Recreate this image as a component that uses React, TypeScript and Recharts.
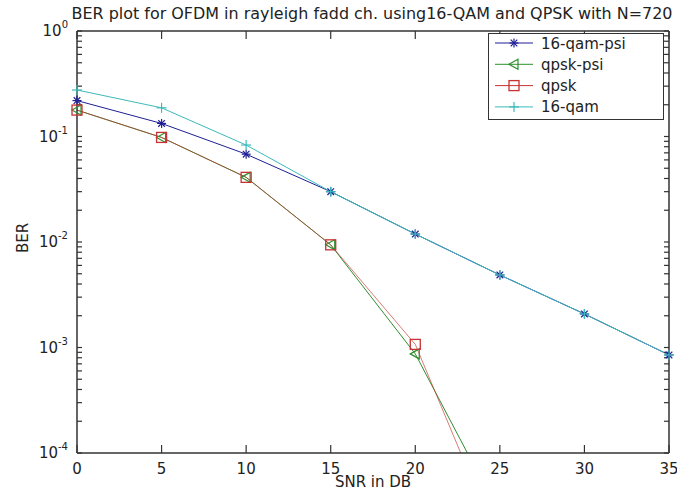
import React from "react"
import { LineChart, Line, XAxis, YAxis } from "recharts"

const snr = [0, 5, 10, 15, 20, 25, 30, 35]
const qam16Psi = [0.219, 0.133, 0.068, 0.03, 0.0119, 0.00487, 0.00208, 0.00085]
const qpskPsi = [0.178, 0.098, 0.041, 0.0094, 0.00087, 0.000026, null, null]
const qpsk = [0.178, 0.098, 0.041, 0.0094, 0.00107, 0.000013, null, null]
const qam16 = [0.276, 0.187, 0.083, 0.03, 0.0119, 0.00487, 0.00208, 0.00085]

const xTicks = [0, 5, 10, 15, 20, 25, 30, 35]
const decades = [0.0001, 0.001, 0.01, 0.1, 1]
const minorSteps = [2, 3, 4, 5, 6, 7, 8, 9]
const yTicks = decades.concat(
  decades.slice(0, 4).flatMap((d) => minorSteps.map((m) => d * m))
)

const title = "BER plot for OFDM in rayleigh fadd ch. using16-QAM and QPSK with N=720"

type Kind = "star" | "tri" | "square" | "plus"

const series: { key: string; name: string; color: string; kind: Kind; opacity: number }[] = [
  { key: "qam16Psi", name: "16-qam-psi", color: "#1f1f96", kind: "star", opacity: 1 },
  { key: "qpskPsi", name: "qpsk-psi", color: "#2f8f2f", kind: "tri", opacity: 1 },
  { key: "qpsk", name: "qpsk", color: "#c83232", kind: "square", opacity: 0.65 },
  { key: "qam16", name: "16-qam", color: "#3cbaba", kind: "plus", opacity: 1 },
]

const data = snr.map((x, i) => ({
  snr: x,
  qam16Psi: qam16Psi[i],
  qpskPsi: qpskPsi[i],
  qpsk: qpsk[i],
  qam16: qam16[i],
}))

const FONT = "'DejaVu Sans', sans-serif"
const AX = "#333"
const TXT = "#222"

const Marker = ({ kind, cx, cy, color }: { kind: Kind; cx: number; cy: number; color: string }) => {
  const s = 4.5
  if (kind === "star")
    return (
      <g stroke={color} strokeWidth={1.2}>
        <line x1={cx - s} x2={cx + s} y1={cy} y2={cy} />
        <line x1={cx} x2={cx} y1={cy - s} y2={cy + s} />
        <line x1={cx - 3.3} x2={cx + 3.3} y1={cy - 3.3} y2={cy + 3.3} />
        <line x1={cx - 3.3} x2={cx + 3.3} y1={cy + 3.3} y2={cy - 3.3} />
      </g>
    )
  if (kind === "tri")
    return (
      <polygon
        points={`${cx - 5},${cy} ${cx + 4},${cy - 5} ${cx + 4},${cy + 5}`}
        fill="none"
        stroke={color}
        strokeWidth={1.2}
      />
    )
  if (kind === "square")
    return <rect x={cx - 5} y={cy - 5} width={10} height={10} fill="none" stroke={color} strokeWidth={1.3} />
  return (
    <g stroke={color} strokeWidth={1.2}>
      <line x1={cx - 5} x2={cx + 5} y1={cy} y2={cy} />
      <line x1={cx} x2={cx} y1={cy - 5} y2={cy + 5} />
    </g>
  )
}

const dotFor = (kind: Kind, color: string) => (props: any) => {
  const { cx, cy, index } = props
  if (cx == null || cy == null || props.value == null) return <g key={`d-${kind}-${index}`} />
  return (
    <g key={`d-${kind}-${index}`}>
      <Marker kind={kind} cx={cx} cy={cy} color={color} />
    </g>
  )
}

const XTick = (props: any) => {
  const { x, y, payload } = props
  return (
    <text x={x} y={y} dy="0.8em" textAnchor="middle" fontSize={15} fontFamily={FONT} fill={TXT}>
      {payload.value}
    </text>
  )
}

const NoLabel = () => <g />

const isMajor = (v: number) => Math.abs(Math.log10(v) - Math.round(Math.log10(v))) < 1e-6

const YTick = (props: any) => {
  const { x, y, payload } = props
  const v = payload.value as number
  if (!isMajor(v)) return <g />
  const exp = Math.round(Math.log10(v))
  return (
    <text x={x} y={y + 5} textAnchor="end" fontSize={15} fontFamily={FONT} fill={TXT}>
      10
      <tspan dy={-8} fontSize={10}>
        {exp}
      </tspan>
    </text>
  )
}

const Overlay = () => (
  <svg
    width={677}
    height={500}
    style={{ position: "absolute", left: 0, top: 0, pointerEvents: "none" }}
  >
    <text
      x={372}
      y={19}
      textAnchor="middle"
      fontSize={16}
      fontFamily={FONT}
      fill={TXT}
      textLength={601}
      lengthAdjust="spacingAndGlyphs"
    >
      {title}
    </text>
    <text x={373} y={487} textAnchor="middle" fontSize={15} fontFamily={FONT} fill={TXT}>
      SNR in DB
    </text>
    <text
      x={23}
      y={238}
      textAnchor="middle"
      dominantBaseline="central"
      fontSize={15}
      fontFamily={FONT}
      fill={TXT}
      transform="rotate(-90 23 238)"
    >
      BER
    </text>
    <g transform="translate(488,33)">
      <rect x={0.5} y={0.5} width={175} height={86} fill="#fff" stroke={AX} />
      {series.map((s, i) => {
        const cy = 10 + i * 21.3
        return (
          <g key={s.key}>
            <line x1={7} x2={45} y1={cy} y2={cy} stroke={s.color} />
            <Marker kind={s.kind} cx={26} cy={cy} color={s.color} />
            <text x={53} y={cy + 5.5} fontSize={15} fontFamily={FONT} fill={TXT}>
              {s.name}
            </text>
          </g>
        )
      })}
    </g>
  </svg>
)

const tickStyle = { stroke: AX, strokeWidth: 1.2 }

const App = () => {
  return (
    <div style={{ position: "absolute", left: 0, top: 0, width: 677, height: 500, background: "#fff" }}>
      <LineChart
        width={677}
        height={500}
        data={data}
        margin={{ top: 30, right: 7, bottom: 0, left: 0 }}
      >
        <XAxis
          xAxisId={0}
          dataKey="snr"
          type="number"
          domain={[0, 35]}
          ticks={xTicks}
          height={47}
          tickSize={-8}
          tickMargin={17}
          tick={<XTick />}
          axisLine={{ stroke: AX, strokeWidth: 1.5 }}
          tickLine={tickStyle}
        />
        <XAxis
          xAxisId="top"
          orientation="top"
          dataKey="snr"
          type="number"
          domain={[0, 35]}
          ticks={xTicks}
          height={1}
          tickSize={-8}
          tickMargin={0}
          tick={<NoLabel />}
          axisLine={{ stroke: AX, strokeWidth: 1.5 }}
          tickLine={tickStyle}
        />
        <YAxis
          yAxisId={0}
          scale="log"
          domain={[0.0001, 1]}
          allowDataOverflow
          ticks={yTicks}
          interval={0}
          width={77}
          tickSize={-5}
          tickMargin={14}
          tick={<YTick />}
          axisLine={{ stroke: AX, strokeWidth: 1.5 }}
          tickLine={tickStyle}
        />
        <YAxis
          yAxisId="right"
          orientation="right"
          scale="log"
          domain={[0.0001, 1]}
          allowDataOverflow
          ticks={yTicks}
          interval={0}
          width={1}
          tickSize={-5}
          tickMargin={0}
          tick={<NoLabel />}
          axisLine={{ stroke: AX, strokeWidth: 1.5 }}
          tickLine={tickStyle}
        />
        {series.map((s) => (
          <Line
            key={s.key}
            dataKey={s.key}
            name={s.name}
            stroke={s.color}
            strokeOpacity={s.opacity}
            strokeWidth={1}
            dot={dotFor(s.kind, s.color)}
            activeDot={false}
            isAnimationActive={false}
            connectNulls={false}
          />
        ))}
      </LineChart>
      <Overlay />
    </div>
  )
}

export default App
